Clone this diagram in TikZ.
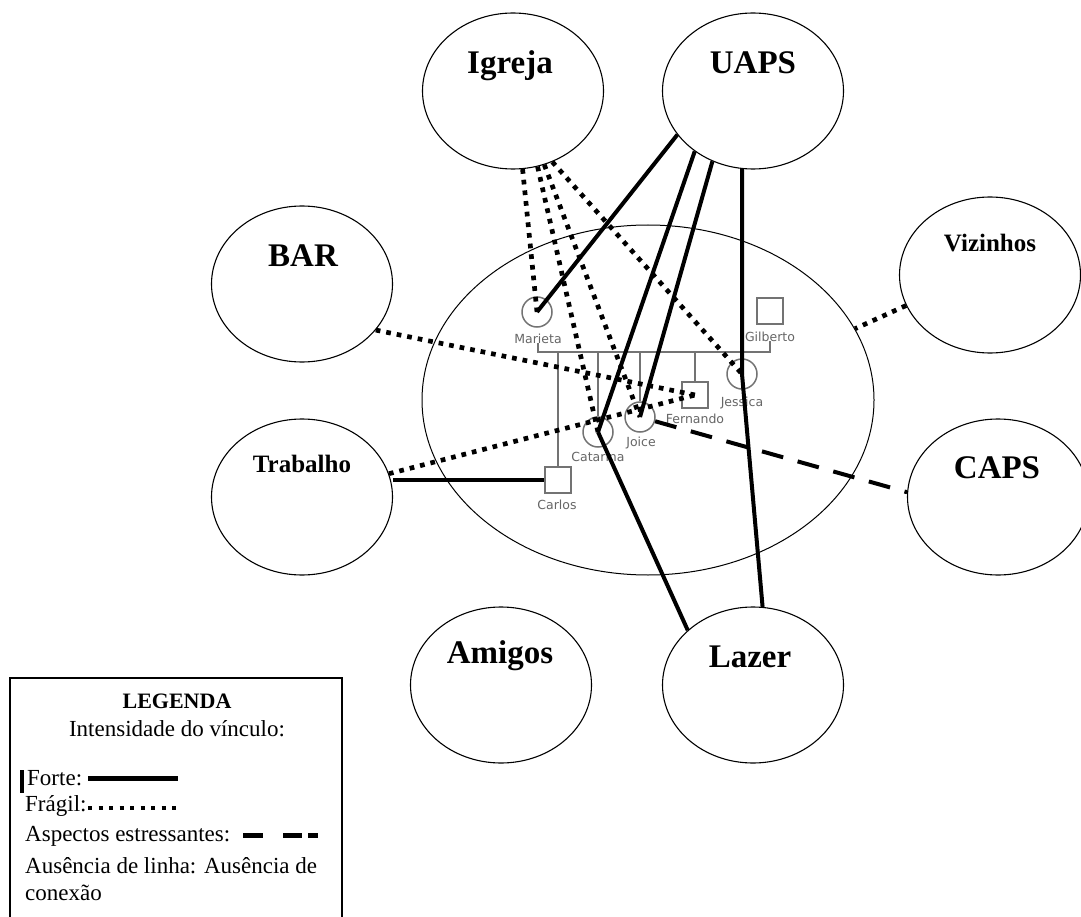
\documentclass[tikz,border=0pt]{standalone}
\usepackage{fontspec}
\setmainfont{Liberation Serif}
\newfontfamily\genofont{DejaVu Sans}
\usetikzlibrary{shapes.geometric}

\tikzset{
  sistema/.style={ellipse, draw, line width=1.1pt, minimum width=181pt, minimum height=156pt, inner sep=0pt},
  familia/.style={ellipse, draw, line width=1pt, minimum width=452pt, minimum height=350pt, inner sep=0pt},
  rotulo/.style={font=\fontsize{33}{33}\selectfont\bfseries, anchor=base, inner sep=0pt},
  rotulo menor/.style={font=\fontsize{25}{25}\selectfont\bfseries, anchor=base, inner sep=0pt},
  mulher/.style={circle, draw=black!55, line width=1.5pt, minimum size=30pt, inner sep=0pt},
  homem/.style={rectangle, draw=black!55, line width=1.5pt, minimum size=26pt, inner sep=0pt},
  nome/.style={font=\genofont\fontsize{12.5}{12.5}\selectfont, text=black!60, anchor=base, inner sep=0pt},
  geno/.style={draw=black!55, line width=2pt},
  forte/.style={line width=4pt},
  fragil/.style={line width=4.7pt, dash pattern=on 4.7pt off 6pt},
  estresse/.style={line width=4pt, dash pattern=on 22pt off 15pt},
  legenda/.style={font=\fontsize{23}{23}\selectfont, anchor=base west, inner sep=0pt}
}

\begin{document}
\begin{tikzpicture}[x=1pt, y=-1pt]
  \useasboundingbox[fill=white] (0,0) rectangle (1081,917);

  % sistemas em volta da familia
  \node (igreja) at (513,91) [sistema] {};
  \node (uaps) at (753,91) [sistema] {};
  \node (bar) at (302,284) [sistema] {};
  \node (trabalho) at (302,497) [sistema] {};
  \node (vizinhos) at (990,275) [sistema] {};
  \node (caps) at (998,497) [sistema] {};
  \node (amigos) at (501,685) [sistema] {};
  \node (lazer) at (753,685) [sistema] {};
  \node (familia) at (648,400) [familia] {};

  \node (igreja-t) at (510,74) [rotulo] {Igreja};
  \node (uaps-t) at (753,74) [rotulo] {UAPS};
  \node (bar-t) at (303,267) [rotulo] {BAR};
  \node (trabalho-t) at (302,472) [rotulo menor] {Trabalho};
  \node (vizinhos-t) at (990,252) [rotulo menor] {Vizinhos};
  \node (caps-t) at (997,478) [rotulo] {CAPS};
  \node (amigos-t) at (500,663) [rotulo] {Amigos};
  \node (lazer-t) at (750,667) [rotulo] {Lazer};

  % genograma
  \node (marieta) at (537,312) [mulher] {};
  \node (gilberto) at (770,311) [homem] {};
  \node (carlos) at (558,480) [homem] {};
  \node (catarina) at (598,432) [mulher] {};
  \node (joice) at (640,417) [mulher] {};
  \node (fernando) at (695,395) [homem] {};
  \node (jessica) at (742,374) [mulher] {};

  \node (marieta-n) at (538,343) [nome] {Marieta};
  \node (gilberto-n) at (770,341) [nome] {Gilberto};
  \node (carlos-n) at (557,509) [nome] {Carlos};
  \node (catarina-n) at (598,461) [nome] {Catarina};
  \node (joice-n) at (641,446) [nome] {Joice};
  \node (fernando-n) at (695,423) [nome] {Fernando};
  \node (jessica-n) at (742,406) [nome] {Jessica};

  \coordinate (uniao) at (650,352);
  \draw[geno] (marieta-n.south) |- (uniao) -| (gilberto-n.south);
  \foreach \filho in {carlos, catarina, joice, fernando, jessica}
    \draw[geno] (uniao -| \filho) -- (\filho);

  % vinculos
  \foreach \source/\dest in {uaps.210/marieta.center, uaps.226/catarina.center, uaps.240/joice.center, uaps.262/jessica.center, catarina.center/lazer.140, jessica.center/lazer.83}
    \path[forte] (\source) edge (\dest);
  \path[forte] (carlos.west -| trabalho.east) edge (carlos.west);
  \foreach \source/\dest in {igreja.277/marieta.center, igreja.288/catarina.center, igreja.293/joice.center, igreja.299/jessica.center, bar.328/fernando.center, trabalho.15/fernando.center, vizinhos.200/familia.19}
    \path[fragil] (\source) edge (\dest);
  \path[estresse] (joice) edge (caps.177);

  % legenda
  \draw[line width=1.3pt] (10,925) -- (10,678) -- (342,678) -- (342,925);
  \node (leg-titulo) at (177,708) [legenda, anchor=base, font=\fontsize{22}{22}\selectfont\bfseries] {LEGENDA};
  \node (leg-intens) at (177,736) [legenda, anchor=base] {Intensidade do vínculo:};
  \node (leg-forte) at (27,785) [legenda] {Forte:};
  \node (leg-fragil) at (25,811) [legenda] {Frágil:};
  \node (leg-estresse) at (25,841) [legenda] {Aspectos estressantes:};
  \node (leg-ausencia) at (25,873) [legenda] {Ausência de linha: Ausência de};
  \node (leg-conexao) at (25,900) [legenda] {conexão};
  \draw[line width=3.5pt] (22,770) -- (22,793);
  \draw[forte, line width=5pt] (88,778) -- (178,778);
  \draw[fragil, line width=4pt, dash pattern=on 4pt off 6.5pt] (88,808) -- (178,808);
  \draw[line width=5pt, dash pattern=on 20pt off 20pt on 19pt off 6pt on 10pt off 20pt] (243,835) -- (318,835);
\end{tikzpicture}
\end{document}
